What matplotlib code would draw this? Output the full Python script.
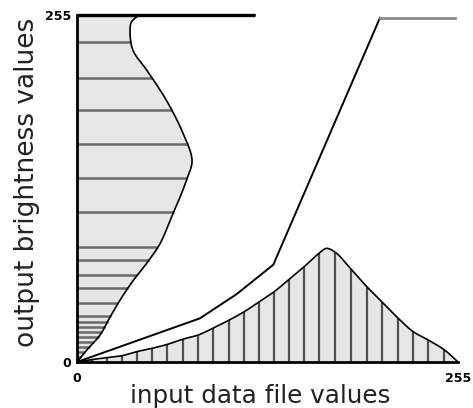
import numpy as np
import matplotlib
matplotlib.use("Agg")
import matplotlib.pyplot as plt

# Input histogram (bottom): input value -> relative count
input_x = [0, 10, 20, 30, 40, 50, 60, 70.7, 81, 91, 102, 112, 122, 132, 142, 152,
           162, 167, 173, 183, 194, 204, 215, 225, 235, 246, 255]
input_count = [0, 1.8, 3.2, 4.6, 7.6, 10, 12.8, 16.7, 19.8, 24.8, 30.9, 37, 44.3, 51.7,
               60.8, 70, 79.9, 83.5, 80.5, 68.8, 55.3, 44.3, 32.1, 22.3, 16.2, 8.8, 0]
input_lines = [10, 20, 30, 40, 50, 60.5, 70.7, 81.2, 91.2, 101.9, 111.8, 122, 132.1,
               142.1, 151.9, 162.2, 172.7, 183.2, 193.9, 203.9, 214.7, 225.1, 235.1, 245.6]

# Output histogram (left): output value -> relative count
output_v = [0, 8.8, 19.8, 33, 45.5, 60, 72.5, 87, 107, 121, 134, 148, 168, 192, 214,
            229, 242, 250, 254.5]
output_w = [0, 6.5, 15.4, 22.1, 28.8, 37.7, 46.6, 55.6, 63.4, 68.9, 73.4, 77, 71, 60,
            47, 37.5, 35.5, 36.5, 41]
output_lines = [3.7, 7.4, 11.1, 14.8, 18.5, 22.2, 25.9, 29.6, 33.8, 43.6, 54.1, 63.9,
                74.9, 84.7, 110.4, 135, 160, 185.2, 208.9, 234.9]
output_peak_v = 255
output_peak_w = 119

# Stretch function
stretch_in = [0, 82.3, 107, 131.4, 202.8, 253]
stretch_out = [0, 32.1, 50, 71.5, 253, 253]

x_ticks = [0, 255]
y_ticks = [0, 255]


def smooth(xs, ys, n=16):
    """Centripetal Catmull-Rom curve through the given points (drawing only)."""
    p = np.column_stack([xs, ys]).astype(float)
    p = np.vstack([2 * p[0] - p[1], p, 2 * p[-1] - p[-2]])
    out = []
    for i in range(1, len(p) - 2):
        p0, p1, p2, p3 = p[i - 1], p[i], p[i + 1], p[i + 2]
        def tj(ti, a, b):
            return ti + max(np.linalg.norm(b - a), 1e-6) ** 0.5
        t0 = 0.0
        t1 = tj(t0, p0, p1)
        t2 = tj(t1, p1, p2)
        t3 = tj(t2, p2, p3)
        t = np.linspace(t1, t2, n, endpoint=False)[:, None]
        a1 = (t1 - t) / (t1 - t0) * p0 + (t - t0) / (t1 - t0) * p1
        a2 = (t2 - t) / (t2 - t1) * p1 + (t - t1) / (t2 - t1) * p2
        a3 = (t3 - t) / (t3 - t2) * p2 + (t - t2) / (t3 - t2) * p3
        b1 = (t2 - t) / (t2 - t0) * a1 + (t - t0) / (t2 - t0) * a2
        b2 = (t3 - t) / (t3 - t1) * a2 + (t - t1) / (t3 - t1) * a3
        c = (t2 - t) / (t2 - t1) * b1 + (t - t1) / (t2 - t1) * b2
        out.append(c)
    out.append(p[-2][None, :])
    c = np.vstack(out)
    return c[:, 0], c[:, 1]


fig = plt.figure(figsize=(4.73, 4.08), dpi=100)
ax = fig.add_axes([77 / 473, 46 / 408, 381 / 473, 347 / 408])
ax.set_xlim(0, 255)
ax.set_ylim(0, 255)

fill_c = "#e6e6e6"

# bottom histogram
ix, iy = smooth(input_x, input_count)
ax.fill_between(ix, 0, iy, color=fill_c, lw=0, zorder=1)
vl_top = np.interp(input_lines, ix, iy)
ax.vlines(input_lines, 0, vl_top, color="#505050", lw=1.6, zorder=2)
ax.plot(ix, iy, color="black", lw=1.2, zorder=3)

# left histogram
ow, ov = smooth(output_w, output_v)
ax.fill_betweenx(ov, 0, ow, color=fill_c, lw=0, zorder=1)
hl_len = np.interp(output_lines, ov, ow)
ax.hlines(output_lines, 0, hl_len, color="#6a6a6a", lw=1.8, zorder=2)
ax.plot(ow, ov, color="black", lw=1.2, zorder=3)
ax.plot([output_w[-1], output_peak_w], [output_v[-1], output_peak_v], color="black",
        lw=1.2, zorder=3, clip_on=False)
ax.hlines(output_peak_v, 0, output_peak_w, color="black", lw=2.4, zorder=4, clip_on=False)

# stretch line
ax.plot(stretch_in[:-1], stretch_out[:-1], color="black", lw=1.4, zorder=4)
ax.plot(stretch_in[-2:], stretch_out[-2:], color="#8a8a8a", lw=2.0, zorder=4)

for s in ["top", "right"]:
    ax.spines[s].set_visible(False)
for s in ["left", "bottom"]:
    ax.spines[s].set_linewidth(2)
    ax.spines[s].set_color("black")

ax.set_xticks(x_ticks)
ax.set_xticklabels([str(v) for v in x_ticks], fontsize=9, fontweight="bold")
ax.set_yticks(y_ticks)
ax.set_yticklabels([str(v) for v in y_ticks], fontsize=9, fontweight="bold")
ax.tick_params(axis="x", length=0, pad=7)
ax.tick_params(axis="y", length=0, pad=4)

fig.text(27 / 473, 0.553, "output brightness values", rotation=90, fontsize=19,
         ha="center", va="center", color="#222222")
fig.text(260 / 473, 0.03, "input data file values", fontsize=17.7,
         ha="center", va="center", color="#222222")

fig.savefig("out.png", dpi=100)
